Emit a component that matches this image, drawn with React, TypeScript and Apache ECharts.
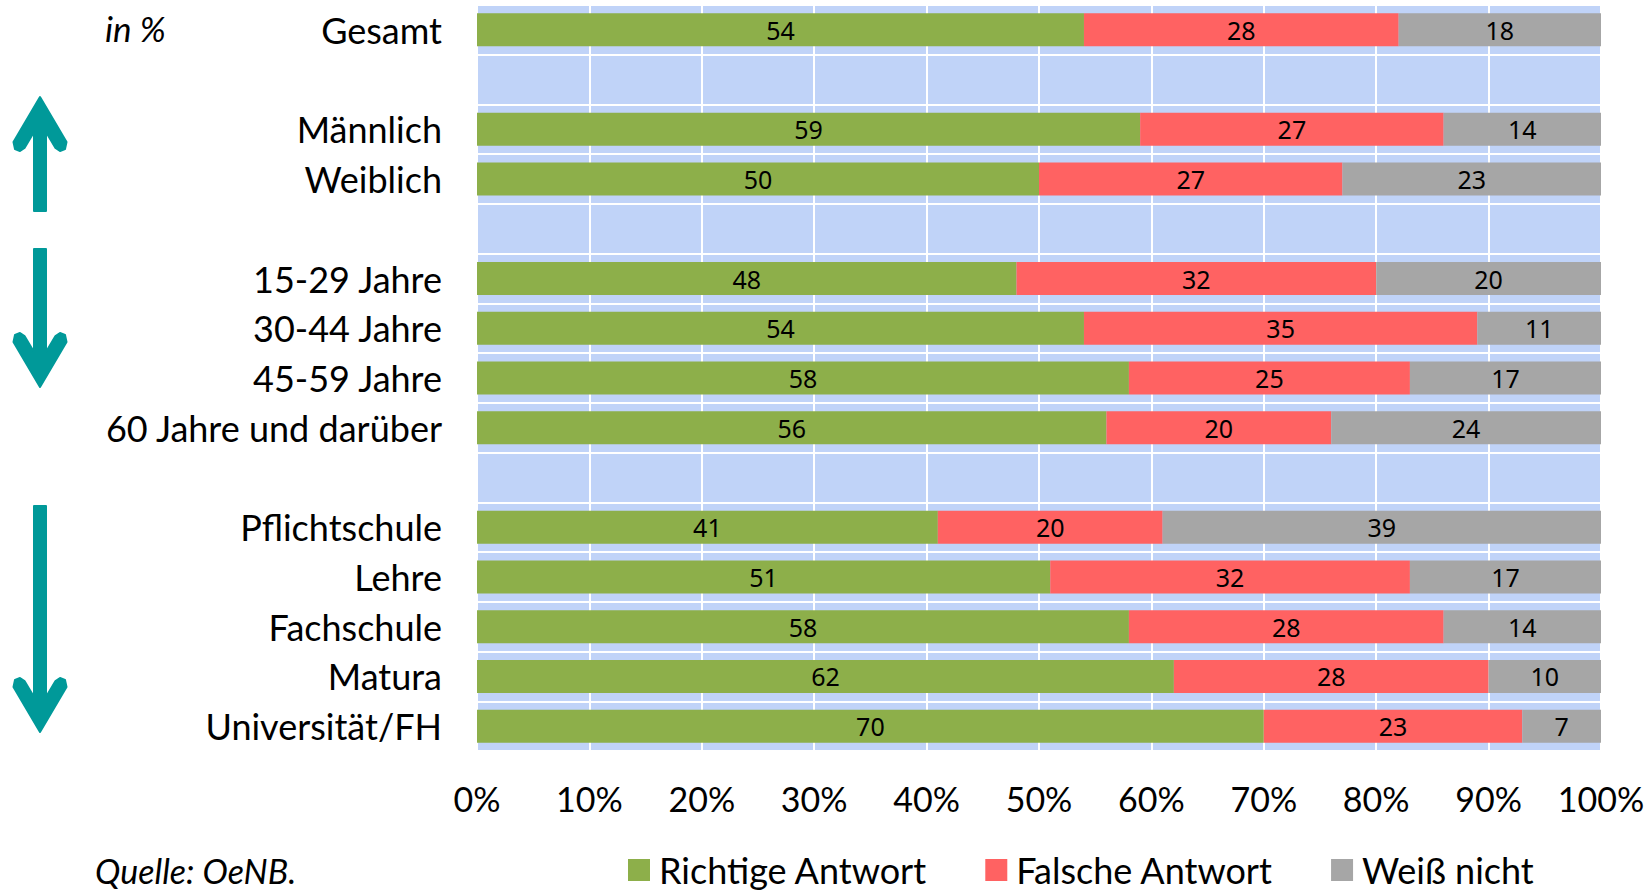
import React, { useEffect, useRef } from "react";
import * as echarts from "echarts";

const categories = [
  "Gesamt",
  " ",
  "Männlich",
  "Weiblich",
  "  ",
  "15-29 Jahre",
  "30-44 Jahre",
  "45-59 Jahre",
  "60 Jahre und darüber",
  "   ",
  "Pflichtschule",
  "Lehre",
  "Fachschule",
  "Matura",
  "Universität/FH",
];

const richtige = [54, null, 59, 50, null, 48, 54, 58, 56, null, 41, 51, 58, 62, 70];
const falsche = [28, null, 27, 27, null, 32, 35, 25, 20, null, 20, 32, 28, 28, 23];
const weissNicht = [18, null, 14, 23, null, 20, 11, 17, 24, null, 39, 17, 14, 10, 7];

const seriesNames = ["Richtige Antwort", "Falsche Antwort", "Weiß nicht"];
const seriesColors = ["#8DAF4A", "#FF6262", "#A6A6A6"];

const xTicks = { min: 0, max: 100, interval: 10 };

const TEAL = "#009999";
const LABEL_FONT = "Lato";

function arrowPoints(cx: number, tipY: number, tailY: number): number[][] {
  const d = tipY < tailY ? 1 : -1;
  const p = (dx: number, dy: number) => [cx + dx, tipY + d * dy];
  return [
    p(0, 0),
    p(26.5, 45),
    p(25, 52),
    p(20, 54),
    p(15.5, 51),
    p(6, 35),
    [cx + 6, tailY],
    [cx - 6, tailY],
    p(-6, 35),
    p(-15.5, 51),
    p(-20, 54),
    p(-25, 52),
    p(-26.5, 45),
  ];
}

export default function App() {
  const ref = useRef<HTMLDivElement>(null);

  useEffect(() => {
    document.body.style.margin = "0";
    if (!ref.current) return;
    const chart = echarts.init(ref.current, null, { renderer: "svg" });

    const mkSeries = (name: string, data: (number | null)[], color: string) => ({
      name,
      type: "bar",
      stack: "total",
      barWidth: 33,
      data,
      itemStyle: { color },
      label: {
        show: true,
        position: "inside",
        color: "#000",
        fontFamily: "Noto Sans",
        fontSize: 25,
        formatter: (p: any) => (p.value == null ? "" : String(p.value)),
      },
    });

    const arrowStyle = { fill: TEAL, stroke: TEAL, lineWidth: 2, lineJoin: "round" };

    chart.setOption({
      animation: false,
      backgroundColor: "#ffffff",
      grid: {
        left: 477,
        right: 49,
        top: 5,
        bottom: 140,
        show: true,
        backgroundColor: "#C0D3F8",
        borderWidth: 0,
      },
      xAxis: {
        type: "value",
        min: xTicks.min,
        max: xTicks.max,
        interval: xTicks.interval,
        axisLine: { show: false },
        axisTick: { show: false },
        splitLine: { show: true, lineStyle: { color: "#ffffff", width: 2 } },
        axisLabel: {
          formatter: "{value}%",
          color: "#000",
          fontFamily: LABEL_FONT,
          fontSize: 34,
          margin: 30,
        },
      },
      yAxis: {
        type: "category",
        inverse: true,
        data: categories,
        axisLine: { show: false },
        axisTick: { show: false },
        splitLine: { show: true, lineStyle: { color: "#ffffff", width: 2 } },
        axisLabel: {
          color: "#000",
          fontFamily: LABEL_FONT,
          fontSize: 36,
          margin: 35,
        },
      },
      legend: {
        data: seriesNames,
        left: 628,
        top: 852,
        padding: 0,
        itemWidth: 22,
        itemHeight: 22,
        itemGap: 58,
        icon: "rect",
        textStyle: {
          color: "#000",
          fontFamily: LABEL_FONT,
          fontSize: 36,
          lineHeight: 34,
          padding: [0, 0, 0, 4],
        },
      },
      series: [
        mkSeries(seriesNames[0], richtige, seriesColors[0]),
        mkSeries(seriesNames[1], falsche, seriesColors[1]),
        mkSeries(seriesNames[2], weissNicht, seriesColors[2]),
      ],
      graphic: [
        {
          type: "text",
          x: 105,
          y: 28,
          style: {
            text: "in %",
            fontFamily: LABEL_FONT,
            fontStyle: "italic",
            fontSize: 35,
            fill: "#000",
            verticalAlign: "middle",
          },
        },
        {
          type: "text",
          x: 95,
          y: 870,
          style: {
            text: "Quelle: OeNB.",
            fontFamily: LABEL_FONT,
            fontStyle: "italic",
            fontSize: 34,
            fill: "#000",
            verticalAlign: "middle",
          },
        },
        { type: "polygon", shape: { points: arrowPoints(40, 97, 211) }, style: arrowStyle },
        { type: "polygon", shape: { points: arrowPoints(40, 387, 249) }, style: arrowStyle },
        { type: "polygon", shape: { points: arrowPoints(40, 732, 506) }, style: arrowStyle },
      ],
    });

    return () => chart.dispose();
  }, []);

  return <div ref={ref} style={{ width: 1650, height: 891 }} />;
}
